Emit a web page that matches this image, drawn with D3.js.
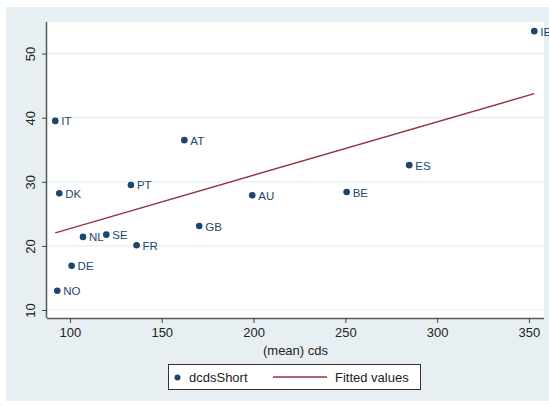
<!DOCTYPE html>
<html>
<head>
<meta charset="utf-8">
<script src="https://cdn.jsdelivr.net/npm/d3@7/dist/d3.min.js"></script>
<style>
  html, body { margin: 0; padding: 0; background: #ffffff; }
  svg { display: block; font-family: "Liberation Sans", Arial, sans-serif; }
</style>
</head>
<body>
<svg id="chart" width="549" height="406"></svg>
<script>
// Country codes and their mean CDS vs dcdsShort values
const countries = ["IE", "IT", "AT", "DK", "PT", "NL", "SE", "FR", "DE", "NO", "GB", "AU", "BE", "ES"];
const meanCds   = [352.9, 92.0, 162.3, 94.2, 133.2, 107.1, 119.8, 136.3, 100.9, 93.1, 170.4, 199.3, 250.7, 284.8];
const dcdsShort = [53.5, 39.5, 36.5, 28.2, 29.5, 21.4, 21.75, 20.1, 16.9, 13.0, 23.1, 27.9, 28.4, 32.6];

// Fitted line endpoints
const fitX = [92.0, 352.9];
const fitY = [22.05, 43.75];

const xTicks = [100, 150, 200, 250, 300, 350];
const yTicks = [10, 20, 30, 40, 50];

const svg = d3.select("#chart");
const navy = "#1a476f";
const maroon = "#90353b";
const bg = "#e8eff2";

// Outer graph region
svg.append("rect").attr("x", 6).attr("y", 7).attr("width", 543).attr("height", 394).attr("fill", bg);

const plot = { left: 47, right: 544, top: 22, bottom: 318 };
svg.append("rect")
  .attr("x", plot.left).attr("y", plot.top)
  .attr("width", plot.right - plot.left).attr("height", plot.bottom - plot.top)
  .attr("fill", "#ffffff");

const x = d3.scaleLinear().domain([87.5, 358.2]).range([plot.left, plot.right]);
const y = d3.scaleLinear().domain([8.75, 54.93]).range([plot.bottom, plot.top]);

// Horizontal grid
svg.append("g").selectAll("line").data(yTicks).join("line")
  .attr("x1", plot.left).attr("x2", plot.right)
  .attr("y1", d => y(d)).attr("y2", d => y(d))
  .attr("stroke", "#e4edf0").attr("stroke-width", 1.2);

// Axes
const xAxis = svg.append("g").attr("transform", `translate(0,${plot.bottom})`)
  .call(d3.axisBottom(x).tickValues(xTicks).tickSize(5).tickPadding(5).tickFormat(d3.format("d")));
const yAxis = svg.append("g").attr("transform", `translate(${plot.left},0)`)
  .call(d3.axisLeft(y).tickValues(yTicks).tickSize(5).tickPadding(3).tickFormat(d3.format("d")));

[xAxis, yAxis].forEach(a => {
  a.select(".domain").attr("stroke", "#5a5a5a").attr("stroke-width", 1.5);
  a.selectAll(".tick line").attr("stroke", "#444").attr("stroke-width", 1);
  a.selectAll(".tick text").attr("fill", "#222").style("font-size", "13px")
    .style("font-family", "'Liberation Sans', Arial, sans-serif");
});
xAxis.select(".domain").attr("d", `M${plot.left},0.5H${plot.right}`);
yAxis.select(".domain").attr("d", `M-0.5,${plot.bottom}V${plot.top}`);

// Rotated y tick labels
yAxis.selectAll(".tick text")
  .attr("text-anchor", "middle")
  .attr("x", 0).attr("dy", null)
  .attr("transform", "translate(-12,0) rotate(-90)")
  .attr("y", 0)
  .attr("dominant-baseline", "auto");

// X axis title
svg.append("text")
  .attr("x", (plot.left + plot.right) / 2).attr("y", 355)
  .attr("text-anchor", "middle").attr("fill", "#222").style("font-size", "13px")
  .text("(mean) cds");

// Fitted line
svg.append("line")
  .attr("x1", x(fitX[0])).attr("y1", y(fitY[0]))
  .attr("x2", x(fitX[1])).attr("y2", y(fitY[1]))
  .attr("stroke", maroon).attr("stroke-width", 1.3);

// Points with labels
const pts = countries.map((c, i) => ({ c, x: meanCds[i], y: dcdsShort[i] }));
svg.append("g").selectAll("circle").data(pts).join("circle")
  .attr("cx", d => x(d.x)).attr("cy", d => y(d.y)).attr("r", 3.3)
  .attr("fill", navy);
svg.append("g").selectAll("text").data(pts).join("text")
  .attr("x", d => x(d.x) + 6).attr("y", d => y(d.y) + 4.5)
  .attr("fill", navy).style("font-size", "11.5px")
  .text(d => d.c);

// Legend
const lg = svg.append("g");
lg.append("rect").attr("x", 168.5).attr("y", 364.5).attr("width", 252).attr("height", 25)
  .attr("fill", "#ffffff").attr("stroke", "#333").attr("stroke-width", 1);
lg.append("circle").attr("cx", 177.5).attr("cy", 377.5).attr("r", 3).attr("fill", navy);
lg.append("text").attr("x", 189).attr("y", 382).attr("fill", "#222").style("font-size", "13px").text("dcdsShort");
lg.append("line").attr("x1", 273).attr("x2", 327).attr("y1", 377).attr("y2", 377)
  .attr("stroke", maroon).attr("stroke-width", 1.3);
lg.append("text").attr("x", 335).attr("y", 382).attr("fill", "#222").style("font-size", "13px").text("Fitted values");
</script>
</body>
</html>
